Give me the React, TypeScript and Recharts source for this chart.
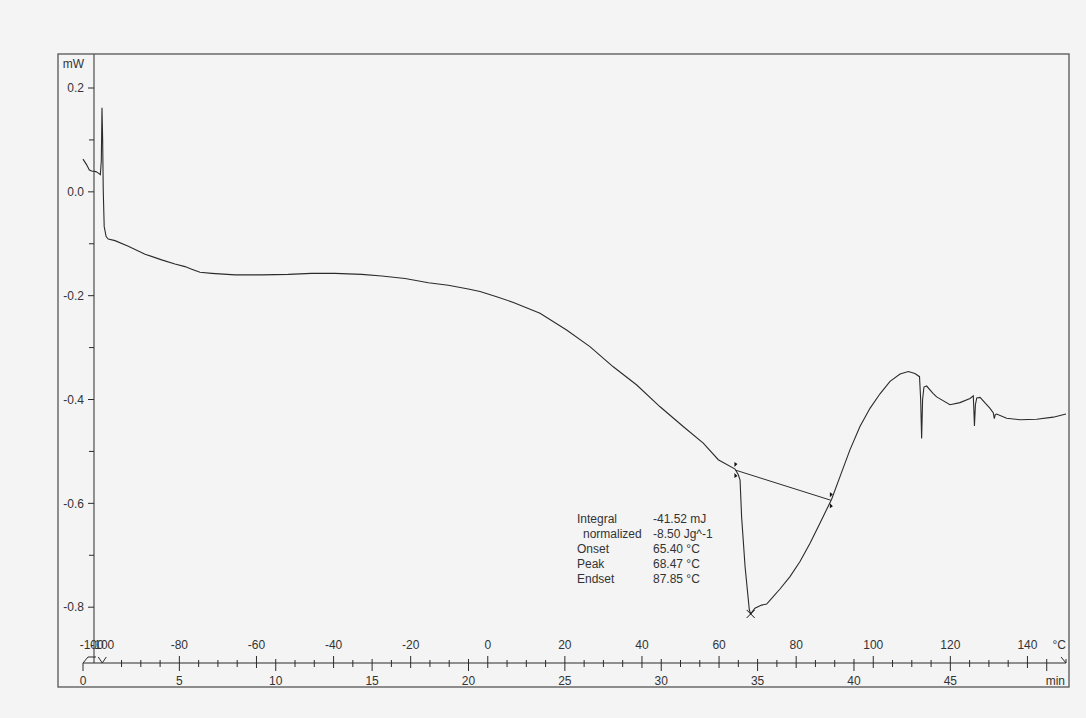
import React from 'react';
import { ComposedChart, Line, XAxis, YAxis, ReferenceLine, ReferenceDot } from 'recharts';

// ---- Data (time in min, heat flow in mW) ----
const TIME_MIN = [
  0.0, 0.19, 0.33, 0.45, 0.67, 0.8, 0.9, 0.95, 0.985, 1.02, 1.05, 1.1, 1.2, 1.31, 1.66, 2.35, 3.22, 4.08, 4.77,
  5.29, 5.64, 6.07, 6.68, 7.89, 9.27, 10.65, 11.86, 13.07, 14.46, 15.5, 16.71, 17.92, 18.95, 19.99, 20.6, 21.46,
  22.33, 23.71, 25.09, 26.3, 27.51, 28.73, 29.94, 31.14, 32.18, 32.96, 33.83, 34.0, 34.09, 34.17, 34.35, 34.57,
  34.64, 34.86, 35.21, 35.47, 35.73, 36.16, 36.68, 37.2, 37.72, 38.24, 38.67, 38.84, 39.27, 39.79, 40.31, 40.83,
  41.35, 41.87, 42.39, 42.82, 43.16, 43.4, 43.46, 43.51, 43.56, 43.63, 43.77, 44.1, 44.29, 44.98, 45.5, 46.02,
  46.19, 46.22, 46.25, 46.3, 46.37, 46.54, 47.06, 47.23, 47.28, 47.33, 47.4, 47.92, 48.61, 49.48, 50.34, 51.0,
];
const HEAT_FLOW_MW = [
  0.063, 0.052, 0.042, 0.04, 0.039, 0.036, 0.033, 0.06, 0.162, 0.1, 0.004, -0.067, -0.086, -0.091, -0.094, -0.105,
  -0.12, -0.131, -0.139, -0.144, -0.149, -0.155, -0.157, -0.16, -0.16, -0.159, -0.157, -0.157, -0.159, -0.162,
  -0.167, -0.175, -0.18, -0.187, -0.192, -0.202, -0.213, -0.234, -0.266, -0.298, -0.337, -0.372, -0.414, -0.452,
  -0.484, -0.516, -0.534, -0.545, -0.555, -0.626, -0.722, -0.805, -0.813, -0.802, -0.796, -0.794, -0.783, -0.765,
  -0.741, -0.712, -0.677, -0.638, -0.605, -0.592, -0.549, -0.497, -0.452, -0.417, -0.389, -0.365, -0.351, -0.346,
  -0.35, -0.356, -0.4, -0.475, -0.4, -0.376, -0.374, -0.388, -0.395, -0.41, -0.406, -0.398, -0.393, -0.42, -0.451,
  -0.41, -0.397, -0.396, -0.417, -0.426, -0.437, -0.429, -0.428, -0.436, -0.439, -0.438, -0.434, -0.428,
];
const BASELINE_TIME = [33.85, 38.8];
const BASELINE_MW = [-0.536, -0.594];
const PEAK_TIME = 34.64;
const PEAK_MW = -0.813;

const Y_TICKS = [0.2, 0.1, 0.0, -0.1, -0.2, -0.3, -0.4, -0.5, -0.6, -0.7, -0.8];
const Y_TICK_LABELS = ['0.2', '', '0.0', '', '-0.2', '', '-0.4', '', '-0.6', '', '-0.8'];

const TIME_LABEL_TIMES = [0, 5, 10, 15, 20, 25, 30, 35, 40, 45];
const TIME_LABELS = ['0', '5', '10', '15', '20', '25', '30', '35', '40', '45'];
const TEMP_LABEL_TIMES = [0.45, 1, 5, 9, 13, 17, 21, 25, 29, 33, 37, 41, 45, 49];
const TEMP_LABELS = ['-100', '-100', '-80', '-60', '-40', '-20', '0', '20', '40', '60', '80', '100', '120', '140'];

const ANNOT_NAMES = ['Integral', 'normalized', 'Onset', 'Peak', 'Endset'];
const ANNOT_VALUES = ['-41.52 mJ', '-8.50 Jg^-1', '65.40 °C', '68.47 °C', '87.85 °C'];

// ---- Layout / style ----
const W = 1086;
const H = 718;
const FONT = '"Liberation Sans", Arial, sans-serif';
const INK = '#2b2b2b';
const TXT = '#333333';
const BG = '#f4f4f4';
const X_DOMAIN: [number, number] = [0, 51];
const Y_DOMAIN: [number, number] = [-0.9075, 0.2655];
const Y_AXIS_TIME = 0.57;
const Y_TICK_START_MAJOR = 0.26;
const Y_TICK_START_MINOR = 0.31;

const seriesData = TIME_MIN.map((t, i) => ({ t, v: HEAT_FLOW_MW[i] }));
const baselineData = BASELINE_TIME.map((t, i) => ({ t, v: BASELINE_MW[i] }));

const X_TICKS: number[] = [];
for (let i = 0; i <= 50; i++) X_TICKS.push(i);
X_TICKS.push(0.45, 51);
X_TICKS.sort((a, b) => a - b);

const AxisTick = (props: any) => {
  const { x, y, payload } = props;
  const t = payload.value as number;
  const els: React.ReactNode[] = [];
  const ls = { stroke: INK, strokeWidth: 1 };
  if (Number.isInteger(t) && t <= 50) {
    if (t === 0) {
      els.push(<line key="l" x1={x} y1={y} x2={x} y2={y + 8} {...ls} />);
      els.push(
        <polyline key="g" points={`${x},${y} ${x + 5},${y - 6} ${x + 13},${y - 6}`} fill="none" {...ls} />
      );
    } else if (t === 1) {
      els.push(
        <polyline key="g" points={`${x - 4},${y - 6} ${x},${y} ${x + 4},${y - 6}`} fill="none" {...ls} />
      );
    } else {
      const timeMajor = t % 5 === 0;
      const tempMajor = TEMP_LABEL_TIMES.includes(t);
      const top = tempMajor ? y - 7 : timeMajor ? y - 4 : y - 3;
      const bottom = timeMajor ? y + 8 : tempMajor ? y + 5 : y + 4;
      els.push(<line key="l" x1={x} y1={top} x2={x} y2={bottom} {...ls} />);
    }
  }
  TIME_LABEL_TIMES.forEach((tt, i) => {
    if (tt === t)
      els.push(
        <text key={'tl' + i} x={x} y={y + 22} textAnchor="middle" fontSize={12} fill={TXT} fontFamily={FONT}>
          {TIME_LABELS[i]}
        </text>
      );
  });
  TEMP_LABEL_TIMES.forEach((tt, i) => {
    if (tt === t)
      els.push(
        <text key={'Tl' + i} x={x} y={y - 14} textAnchor="middle" fontSize={12} fill={TXT} fontFamily={FONT}>
          {TEMP_LABELS[i]}
        </text>
      );
  });
  if (t === 51) {
    els.push(<polyline key="a" points={`${x - 5},${y - 6} ${x},${y} ${x},${y - 4}`} fill="none" {...ls} />);
    els.push(
      <text key="c" x={x} y={y - 14} textAnchor="end" fontSize={12} fill={TXT} fontFamily={FONT}>
        °C
      </text>
    );
    els.push(
      <text key="m" x={x - 1} y={y + 22} textAnchor="end" fontSize={12} fill={TXT} fontFamily={FONT}>
        min
      </text>
    );
  }
  return <g>{els}</g>;
};

const TwoFlags = (props: any) => {
  const { cx, cy } = props;
  return (
    <g fill="#111" stroke="none">
      <polygon points={`${cx - 1},${cy - 8} ${cx + 2},${cy - 6} ${cx - 1},${cy - 3}`} />
      <polygon points={`${cx - 1},${cy + 3} ${cx + 2},${cy + 6} ${cx - 1},${cy + 8}`} />
    </g>
  );
};

const CrossMark = (props: any) => {
  const { cx, cy } = props;
  return (
    <g stroke="#111" strokeWidth={1}>
      <line x1={cx - 4} y1={cy - 4} x2={cx + 4} y2={cy + 4} />
      <line x1={cx - 4} y1={cy + 4} x2={cx + 4} y2={cy - 4} />
    </g>
  );
};

export default function App() {
  return (
    <div style={{ position: 'absolute', left: 0, top: 0, width: W, height: H, background: BG, overflow: 'hidden' }}>
      <ComposedChart
        width={W}
        height={H}
        data={seriesData}
        margin={{ top: 54, right: 20, bottom: 25, left: 83 }}
      >
        <XAxis
          dataKey="t"
          type="number"
          domain={X_DOMAIN}
          ticks={X_TICKS}
          interval={0}
          height={30}
          tickSize={0}
          tickMargin={0}
          tickLine={false}
          axisLine={{ stroke: INK, strokeWidth: 1 }}
          tick={<AxisTick />}
        />
        <YAxis dataKey="v" type="number" domain={Y_DOMAIN} ticks={Y_TICKS} hide />
        <ReferenceLine x={Y_AXIS_TIME} stroke={INK} strokeWidth={1} />
        {Y_TICKS.map((v, i) => (
          <ReferenceLine
            key={'yt' + i}
            segment={[
              { x: Y_TICK_LABELS[i] ? Y_TICK_START_MAJOR : Y_TICK_START_MINOR, y: v },
              { x: Y_AXIS_TIME, y: v },
            ]}
            stroke={INK}
            strokeWidth={1}
            label={
              Y_TICK_LABELS[i]
                ? { value: Y_TICK_LABELS[i], position: 'left', offset: 4, fill: TXT, fontSize: 12, fontFamily: FONT }
                : undefined
            }
          />
        ))}
        <Line
          data={seriesData}
          dataKey="v"
          type="linear"
          stroke={INK}
          strokeWidth={1.1}
          dot={false}
          isAnimationActive={false}
        />
        <Line
          data={baselineData}
          dataKey="v"
          type="linear"
          stroke={INK}
          strokeWidth={1}
          dot={false}
          isAnimationActive={false}
        />
        <ReferenceDot x={BASELINE_TIME[0]} y={BASELINE_MW[0]} shape={<TwoFlags />} />
        <ReferenceDot x={BASELINE_TIME[1]} y={BASELINE_MW[1]} shape={<TwoFlags />} />
        <ReferenceDot x={PEAK_TIME} y={PEAK_MW} shape={<CrossMark />} />
      </ComposedChart>
      <svg
        width={W}
        height={H}
        style={{ position: 'absolute', left: 0, top: 0, pointerEvents: 'none' }}
      >
        <rect x={58} y={54} width={1011} height={633} fill="none" stroke="#555" strokeWidth={1.3} />
        <text x={84} y={68} textAnchor="end" fontSize={12} fill={TXT} fontFamily={FONT}>
          mW
        </text>
        {ANNOT_NAMES.map((n, i) => (
          <text key={'an' + i} x={i === 1 ? 583 : 577} y={523 + i * 15} fontSize={12} fill={TXT} fontFamily={FONT}>
            {n}
          </text>
        ))}
        {ANNOT_VALUES.map((v, i) => (
          <text key={'av' + i} x={653} y={523 + i * 15} fontSize={12} fill={TXT} fontFamily={FONT}>
            {v}
          </text>
        ))}
      </svg>
    </div>
  );
}
